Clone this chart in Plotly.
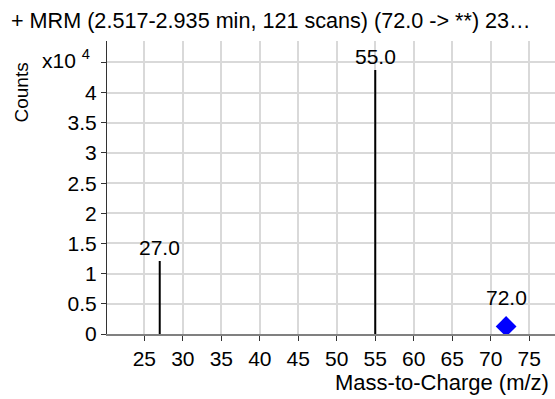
import plotly.graph_objects as go

# Product-ion spectrum for the 72.0 precursor
ion_mz = [27.0, 55.0]
ion_counts = [12100, 43760]
ion_labels = ["27.0", "55.0"]

precursor_mz = [72.0]
precursor_counts = [1260]
precursor_labels = ["72.0"]

x_ticks = [25, 30, 35, 40, 45, 50, 55, 60, 65, 70, 75]
y_ticks = [0, 5000, 10000, 15000, 20000, 25000, 30000, 35000, 40000, 45000]
y_tick_text = ["0", "0.5", "1", "1.5", "2", "2.5", "3", "3.5", "4", ""]

title_text = "+ MRM (2.517-2.935 min, 121 scans) (72.0 -> **) 23\u2026"

FONT = "Liberation Sans, Arial, sans-serif"
FS = 21

# stick lines from the baseline up to each ion's count
stick_x, stick_y = [], []
for mz, c in zip(ion_mz, ion_counts):
    stick_x += [mz, mz, None]
    stick_y += [0, c, None]

fig = go.Figure()
fig.add_trace(go.Scatter(
    x=stick_x, y=stick_y, mode="lines",
    line=dict(color="black", width=2), hoverinfo="skip", showlegend=False,
))
fig.add_trace(go.Scatter(
    x=precursor_mz, y=precursor_counts, mode="markers",
    marker=dict(symbol="diamond", size=16, color="#0000ff",
                line=dict(width=0)),
    showlegend=False,
))

annotations = []
for mz, c, lab in zip(ion_mz, ion_counts, ion_labels):
    annotations.append(dict(
        x=mz, y=c, text=lab, showarrow=False, xanchor="center",
        yanchor="bottom", yshift=0, font=dict(family=FONT, size=FS, color="black"),
    ))
for mz, c, lab in zip(precursor_mz, precursor_counts, precursor_labels):
    annotations.append(dict(
        x=mz, y=c, text=lab, showarrow=False, xanchor="center",
        yanchor="bottom", yshift=15, font=dict(family=FONT, size=FS, color="black"),
    ))

# axis titles and the exponent marker
annotations += [
    dict(xref="paper", yref="paper", x=-0.149, y=1.0, text="x10 <sup>4</sup>",
         showarrow=False, xanchor="left", yanchor="top", yshift=-3,
         font=dict(family=FONT, size=FS, color="black")),
    dict(xref="paper", yref="paper", x=-0.193, y=1.0, text="Counts",
         textangle=-90, showarrow=False, xanchor="center", yanchor="top",
         yshift=-20, font=dict(family=FONT, size=19, color="black")),
    dict(xref="paper", yref="paper", x=0.99, y=0, text="Mass-to-Charge (m/z)",
         showarrow=False, xanchor="right", yanchor="top", yshift=-34,
         font=dict(family=FONT, size=22, color="black")),
    dict(xref="paper", yref="paper", x=-0.218, y=1.0, text=title_text,
         showarrow=False, xanchor="left", yanchor="bottom", yshift=6,
         font=dict(family=FONT, size=21.6, color="black")),
]

fig.update_layout(
    width=555, height=399,
    margin=dict(l=107, r=0, t=41, b=65),
    paper_bgcolor="white", plot_bgcolor="white",
    font=dict(family=FONT, size=FS, color="black"),
    annotations=annotations,
    xaxis=dict(
        range=[20.15, 78.35], tickvals=x_ticks, ticks="outside", ticklen=5,
        tickcolor="#333333", tickwidth=1,
        showgrid=True, gridcolor="#d9d9d9", gridwidth=2,
        showline=True, linecolor="#808080", linewidth=2,
        zeroline=False, tickfont=dict(family=FONT, size=FS, color="black"),
    ),
    yaxis=dict(
        range=[0, 48560], tickvals=y_ticks, ticktext=y_tick_text,
        ticks="outside", ticklen=5, tickcolor="#333333", tickwidth=1,
        showgrid=True, gridcolor="#d9d9d9", gridwidth=2,
        showline=True, linecolor="#333333", linewidth=1,
        zeroline=False, tickfont=dict(family=FONT, size=FS, color="black"),
    ),
)

fig.write_html("out.html")
